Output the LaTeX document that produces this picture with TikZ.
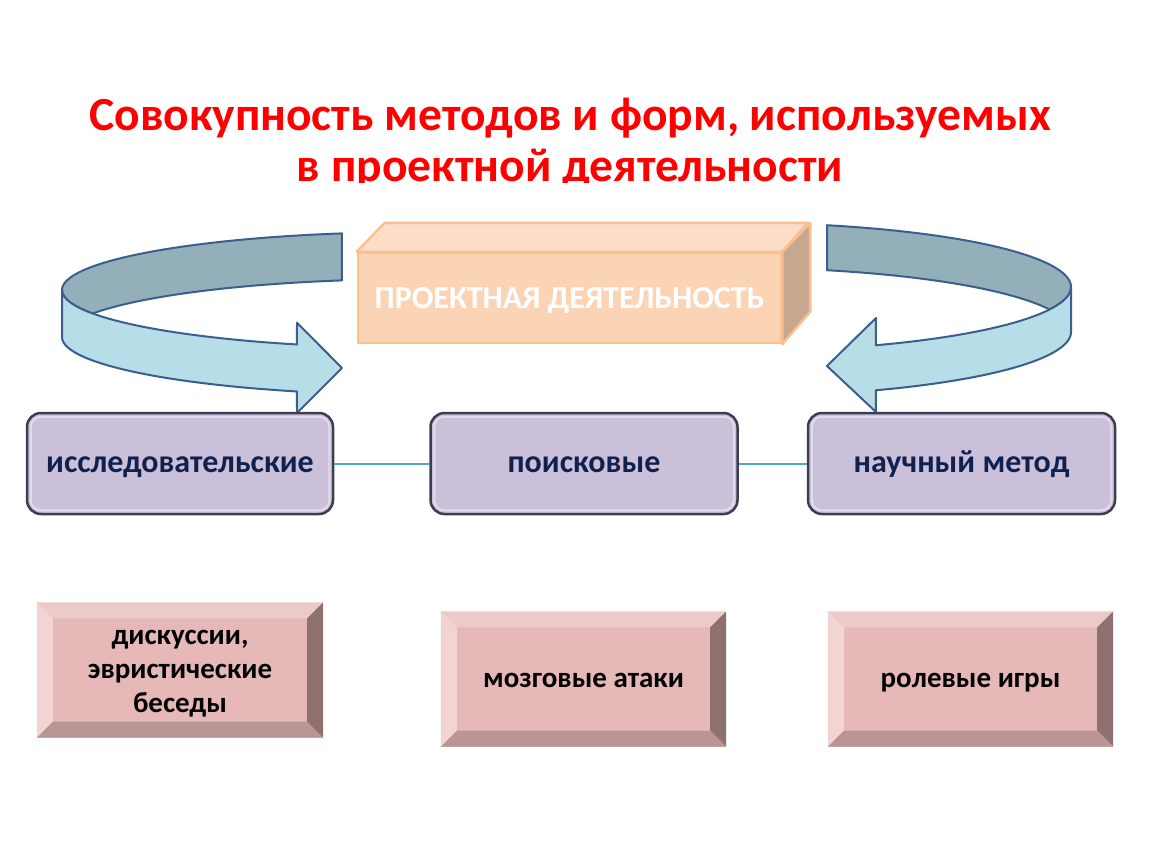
\documentclass[tikz,border=0pt]{standalone}
\usepackage{fontspec}
\setmainfont{Carlito}
\usetikzlibrary{calc}
\definecolor{titlered}{HTML}{FF0000}
\definecolor{ribout}{HTML}{3A5F8C}
\definecolor{ribdark}{HTML}{93B0BA}
\definecolor{riblight}{HTML}{B7DEE8}
\definecolor{projfront}{HTML}{FBD4B5}
\definecolor{projtop}{HTML}{FCDDC7}
\definecolor{projside}{HTML}{C8A791}
\definecolor{projline}{HTML}{F9C091}
\definecolor{lavfill}{HTML}{CBC0DA}
\definecolor{lavline}{HTML}{3C3C52}
\definecolor{navytext}{HTML}{10204F}
\definecolor{connblue}{HTML}{4BACC6}
\definecolor{pinkface}{HTML}{E6B9B8}
\definecolor{pinktop}{HTML}{EDCACA}
\definecolor{pinkleft}{HTML}{F2D4D4}
\definecolor{pinkright}{HTML}{8E7070}
\definecolor{pinkbottom}{HTML}{B99595}
\newcommand{\bevelbox}[7]{%
  \node[pinkbox, #6, minimum width=#4, minimum height=#5] (#1) at (#2,#3) {#7};
  \fill[pinktop] (#1.north west) -- (#1.north east) -- ++(-16,16) -- ($(#1.north west)+(16,16)$) -- cycle;
  \fill[pinkleft] (#1.north west) -- ++(16,16) -- ($(#1.south west)+(16,-16)$) -- (#1.south west) -- cycle;
  \fill[pinkright] (#1.north east) -- ++(-16,16) -- ($(#1.south east)+(-16,-16)$) -- (#1.south east) -- cycle;
  \fill[pinkbottom] (#1.south west) -- ++(16,-16) -- ($(#1.south east)+(-16,-16)$) -- (#1.south east) -- cycle;
}
\begin{document}
\begin{tikzpicture}[x=1pt,y=-1pt,
  titletext/.style={text=titlered, font=\fontsize{47.5}{52}\selectfont\bfseries, inner sep=0pt, anchor=base},
  ribbonback/.style={fill=ribdark, draw=ribout, line width=2pt, line join=round},
  ribbonfront/.style={fill=riblight, draw=ribout, line width=2pt, line join=round},
  projbox/.style={fill=projfront, draw=projline, line width=2.5pt, minimum width=423pt, minimum height=90pt, inner sep=0pt, text=white, font=\fontsize{32}{36}\selectfont\bfseries, text height=20.6pt, text depth=0pt},
  projface/.style={draw=projline, line width=2.5pt, line join=round},
  lavbox/.style={fill=lavfill, draw=lavline, line width=2.5pt, rounded corners=14pt, minimum height=101pt, inner sep=0pt, text=navytext, font=\fontsize{32}{36}\selectfont\bfseries, text height=18pt, text depth=0pt},
  lavhi/.style={draw=white, opacity=0.45, line width=2pt, rounded corners=10pt},
  conn/.style={draw=connblue, line width=2pt},
  pinkbox/.style={fill=pinkface, inner sep=0pt, align=center, text=black, font=\fontsize{29}{34}\selectfont\bfseries},
  pinksingle/.style={text height=17.4pt, text depth=0pt},
  pinkmulti/.style={}
]
\useasboundingbox[fill=white] (0,0) rectangle (1150,864);

% title
\node[titletext] (title1) at (570,131) {Совокупность методов и форм, используемых};
\begin{scope}
  \clip (0,0) rectangle (1150,182);
  \node[titletext] (title2) at (570,181) {в проектной деятельности};
\end{scope}

% left ribbon arrow
\filldraw[ribbonback]
  plot[domain=257.4:156.1,samples=60] ({420+358*cos(\x)},{290+58*sin(\x)})
  -- plot[domain=203.9:257.4,samples=60] ({420+358*cos(\x)},{337+58*sin(\x)}) -- cycle;
\filldraw[ribbonfront]
  plot[domain=180:110.1,samples=60] ({420+358*cos(\x)},{290+58*sin(\x)})
  -- (297,322.7) -- (342,368) -- (297,413)
  -- plot[domain=110.1:180,samples=60] ({420+358*cos(\x)},{337+58*sin(\x)}) -- cycle;

% right ribbon arrow
\filldraw[ribbonback]
  plot[domain=-73.6:20.4,samples=60] ({731+340*cos(\x)},{287+64.4*sin(\x)})
  -- plot[domain=-20.4:-73.6,samples=60] ({731+340*cos(\x)},{332+64.4*sin(\x)}) -- cycle;
\filldraw[ribbonfront]
  plot[domain=0:64.8,samples=60] ({731+340*cos(\x)},{287+64.4*sin(\x)})
  -- (876,318) -- (827,366) -- (876,412)
  -- plot[domain=64.8:0,samples=60] ({731+340*cos(\x)},{332+64.4*sin(\x)}) -- cycle;

% project box (cuboid)
\node[projbox] (proj) at (569.5,298) {ПРОЕКТНАЯ ДЕЯТЕЛЬНОСТЬ};
\filldraw[projface, fill=projtop] (proj.north west) -- ++(28,-29) -- ++(423,0) -- (proj.north east) -- cycle;
\filldraw[projface, fill=projside] (proj.north east) -- ++(28,-29) -- ++(0,89) -- (proj.south east) -- cycle;

% method boxes
\node[lavbox, minimum width=306pt] (b1) at (180,463.5) {исследовательские};
\node[lavbox, minimum width=307pt] (b2) at (584,463.5) {поисковые};
\node[lavbox, minimum width=307pt] (b3) at (961.5,463.5) {научный метод};
\foreach \b in {b1,b2,b3}{
  \draw[lavhi] ($(\b.north west)+(5,5)$) rectangle ($(\b.south east)+(-5,-5)$);
}
\draw[conn] (b1) -- (b2);
\draw[conn] (b2) -- (b3);

% form boxes
\bevelbox{f1}{180}{670}{286pt}{135pt}{pinkmulti}{\rule{0pt}{0.75em}дискуссии,\\эвристические\\беседы}
\bevelbox{f2}{583.5}{679}{285pt}{135pt}{pinksingle}{мозговые атаки}
\bevelbox{f3}{970.5}{679}{285pt}{135pt}{pinksingle}{ролевые игры}
\end{tikzpicture}
\end{document}
